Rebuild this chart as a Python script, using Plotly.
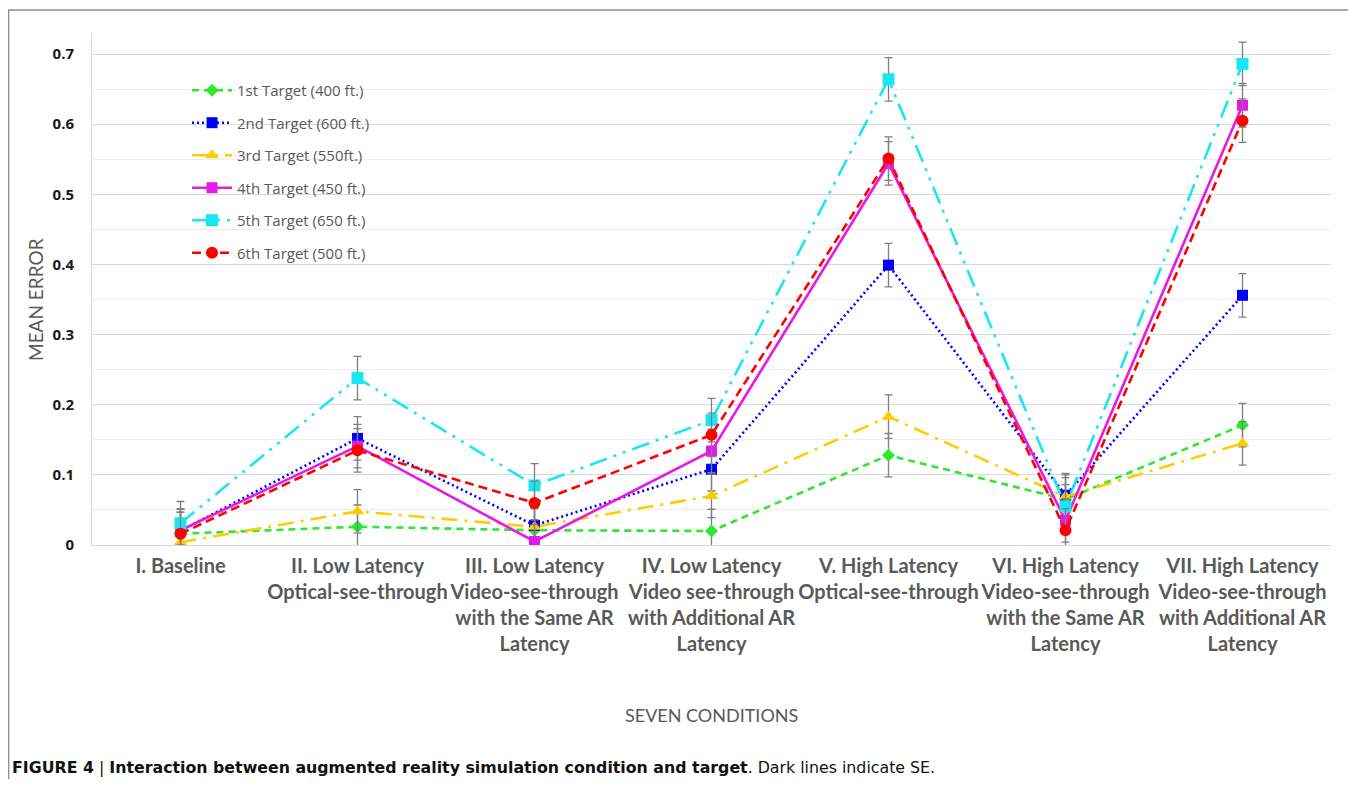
import plotly.graph_objects as go

conditions = [
    "I. Baseline",
    "II. Low Latency<br>Optical-see-through",
    "III. Low Latency<br>Video-see-through<br>with the Same AR<br>Latency",
    "IV. Low Latency<br>Video see-through<br>with Additional AR<br>Latency",
    "V. High Latency<br>Optical-see-through",
    "VI. High Latency<br>Video-see-through<br>with the Same AR<br>Latency",
    "VII. High Latency<br>Video-see-through<br>with Additional AR<br>Latency",
]

target1 = [0.016, 0.026, 0.021, 0.020, 0.128, 0.065, 0.171]
target2 = [0.020, 0.152, 0.028, 0.108, 0.399, 0.071, 0.356]
target3 = [0.004, 0.048, 0.026, 0.070, 0.183, 0.069, 0.145]
target4 = [0.021, 0.141, 0.005, 0.134, 0.544, 0.035, 0.627]
target5 = [0.031, 0.238, 0.085, 0.178, 0.664, 0.055, 0.686]
target6 = [0.016, 0.135, 0.060, 0.157, 0.551, 0.021, 0.605]
se = 0.031

names = ["1st Target (400 ft.)", "2nd Target (600 ft.)", "3rd Target (550ft.)",
         "4th Target (450 ft.)", "5th Target (650 ft.)", "6th Target (500 ft.)"]
series = [target1, target2, target3, target4, target5, target6]
colors = ["#2EE82E", "#0000FF", "#FFCC00", "#E619E6", "#19E6F0", "#FF0000"]
dashes = ["7px,5px", "2px,3px", "16px,7px,3px,7px", "solid",
          "18px,7px,3px,7px,3px,7px", "9px,5px"]
symbols = ["diamond", "square", "triangle-up", "square", "square", "circle"]
msizes = [10, 11, 12, 11, 12, 12]

x = list(range(len(conditions)))

# figure geometry (page is offset by the browser's 8px body margin)
W, H = 1348, 771
PL, PR, PT, PB = 84, 1323, 25, 537  # plot area edges in figure px
PW, PH = PR - PL, PB - PT


def px(xp):
    return (xp - PL) / PW


def py(yp):
    return (PB - yp) / PH


fig = go.Figure()
for i in range(6):
    fig.add_trace(go.Scatter(
        x=x, y=series[i], name=names[i], mode="lines+markers",
        legendgroup=str(i),
        line=dict(color=colors[i], width=2.6, dash=dashes[i]),
        marker=dict(color=colors[i], symbol=symbols[i], size=msizes[i]),
        error_y=dict(type="constant", value=se, color="#7F7F7F",
                     thickness=1.3, width=4),
    ))

grey = "#595959"
fig.update_layout(
    width=W, height=H,
    margin=dict(l=PL, r=W - PR, t=PT, b=H - PB),
    paper_bgcolor="white", plot_bgcolor="white",
    font=dict(family="Lato, Open Sans, sans-serif", color=grey),
    showlegend=True,
    legend=dict(x=0.0767, y=0.92, xanchor="left", yanchor="top",
                font=dict(size=15, color=grey, family="Open Sans, sans-serif"),
                bgcolor="rgba(0,0,0,0)", tracegroupgap=10, itemwidth=40),
    xaxis=dict(
        range=[-0.5, 6.5], tickmode="array", tickvals=x, ticktext=conditions,
        showgrid=False, showline=True, linecolor="#D9D9D9", linewidth=1,
        ticks="", ticklabelstandoff=3,
        tickfont=dict(size=20, color=grey, family="Lato, sans-serif", weight="bold"),
        zeroline=False,
    ),
    yaxis=dict(
        range=[0, 0.73], tickmode="array",
        tickvals=[0, 0.1, 0.2, 0.3, 0.4, 0.5, 0.6, 0.7],
        ticktext=["0", "0.1", "0.2", "0.3", "0.4", "0.5", "0.6", "0.7"],
        showgrid=True, gridcolor="#D9D9D9", gridwidth=1,
        minor=dict(tickvals=[0.05, 0.15, 0.25, 0.35, 0.45, 0.55, 0.65],
                   showgrid=True, gridcolor="#EDEDED", gridwidth=1),
        showline=True, linecolor="#D9D9D9", linewidth=1,
        ticks="", ticklabelstandoff=14,
        tickfont=dict(size=15, color="#1A1A1A", family="Open Sans, sans-serif", weight="bold"),
        zeroline=False,
    ),
    shapes=[dict(type="rect", xref="paper", yref="paper",
                 x0=px(0.7), x1=px(1346), y0=py(800), y1=py(2),
                 line=dict(color="#8C8C8C", width=1.3), fillcolor="rgba(0,0,0,0)",
                 layer="below")],
    annotations=[
        dict(text="MEAN ERROR", textangle=-90, xref="paper", yref="paper",
             x=px(27), y=py(292), xanchor="center", yanchor="middle", showarrow=False,
             font=dict(size=19, color=grey, family="Lato, sans-serif")),
        dict(text="SEVEN CONDITIONS", xref="paper", yref="paper",
             x=0.5, y=py(707), xanchor="center", yanchor="middle", showarrow=False,
             font=dict(size=18, color=grey, family="Lato, sans-serif")),
        dict(text="<b>FIGURE 4</b> | <b>Interaction between augmented reality simulation condition and target</b>. Dark lines indicate SE.",
             xref="paper", yref="paper", xanchor="left", yanchor="middle",
             x=px(2), y=py(759), showarrow=False,
             font=dict(size=15.8, color="#111111", family="DejaVu Sans, Liberation Sans, Arial")),
    ],
)

fig.write_html("out.html")
